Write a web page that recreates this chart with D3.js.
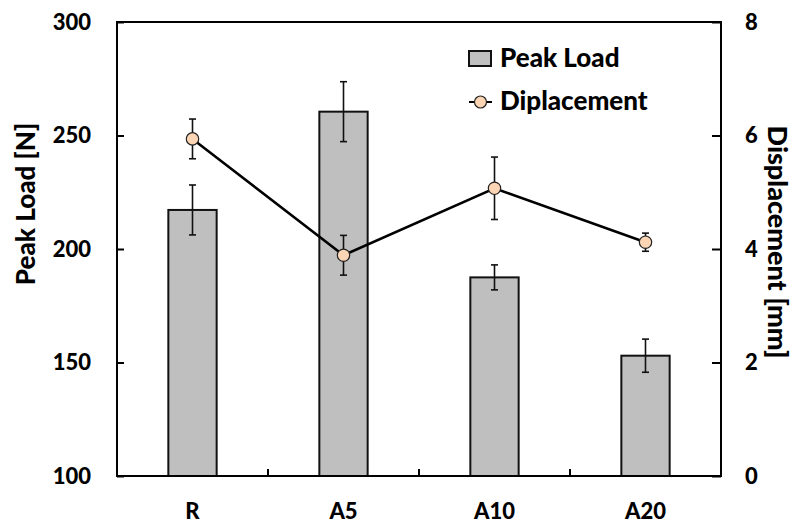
<!DOCTYPE html>
<html>
<head>
<meta charset="utf-8">
<script src="https://cdn.jsdelivr.net/npm/d3@7"></script>
<style>
  html, body { margin: 0; padding: 0; background: #fff; }
  svg { display: block; font-family: Lato, "Open Sans", sans-serif; }
</style>
</head>
<body>
<svg id="chart" width="795" height="519"></svg>
<script>
// Samples
const categories = ["R", "A5", "A10", "A20"];
// Peak load [N] with standard deviation
const peakLoad = [217.2, 260.5, 187.5, 153.0];
const peakLoadErr = [11.0, 13.2, 5.5, 7.3];
// Displacement [mm] with standard deviation
const displacement = [5.94, 3.89, 5.07, 4.12];
const displacementErr = [0.35, 0.35, 0.55, 0.16];
// Axis ticks
const leftTicks = [100, 150, 200, 250, 300];
const rightTicks = [0, 2, 4, 6, 8];

const svg = d3.select("#chart");
const margin = { left: 117, right: 74, top: 22, bottom: 43 };
const W = 795, H = 519;
const x0 = margin.left, x1 = W - margin.right;
const y0 = H - margin.bottom, y1 = margin.top;
const FW = 900;

const x = d3.scaleBand().domain(categories).range([x0, x1]).padding(0);
const yL = d3.scaleLinear().domain([100, 300]).range([y0, y1]);
const yR = d3.scaleLinear().domain([0, 8]).range([y0, y1]);

const barW = x.bandwidth() * 0.32;
const cx = d => x(d) + x.bandwidth() / 2;

// Bars
svg.append("g").selectAll("rect")
  .data(categories)
  .join("rect")
  .attr("x", d => cx(d) - barW / 2)
  .attr("y", (d, i) => yL(peakLoad[i]))
  .attr("width", barW)
  .attr("height", (d, i) => yL(100) - yL(peakLoad[i]))
  .attr("fill", "#bfbfbf")
  .attr("stroke", "#111")
  .attr("stroke-width", 2);

// Error bars for a series
function errorBars(g, scale, vals, errs, cap) {
  const e = g.selectAll("g").data(categories).join("g");
  e.append("line")
    .attr("x1", d => cx(d)).attr("x2", d => cx(d))
    .attr("y1", (d, i) => scale(vals[i] + errs[i]))
    .attr("y2", (d, i) => scale(vals[i] - errs[i]));
  e.append("line")
    .attr("x1", d => cx(d) - cap).attr("x2", d => cx(d) + cap)
    .attr("y1", (d, i) => scale(vals[i] + errs[i]))
    .attr("y2", (d, i) => scale(vals[i] + errs[i]));
  e.append("line")
    .attr("x1", d => cx(d) - cap).attr("x2", d => cx(d) + cap)
    .attr("y1", (d, i) => scale(vals[i] - errs[i]))
    .attr("y2", (d, i) => scale(vals[i] - errs[i]));
  g.selectAll("line").attr("stroke", "#111").attr("stroke-width", 1.6);
}
errorBars(svg.append("g"), yL, peakLoad, peakLoadErr, 3.5);

// Displacement line
const line = d3.line().x(d => cx(d.c)).y(d => yR(d.v));
svg.append("path")
  .datum(categories.map((c, i) => ({ c, v: displacement[i] })))
  .attr("d", line)
  .attr("fill", "none")
  .attr("stroke", "#000")
  .attr("stroke-width", 2.6);

errorBars(svg.append("g"), yR, displacement, displacementErr, 3.5);

svg.append("g").selectAll("circle")
  .data(categories)
  .join("circle")
  .attr("cx", d => cx(d))
  .attr("cy", (d, i) => yR(displacement[i]))
  .attr("r", 6.2)
  .attr("fill", "#fcd5b4")
  .attr("stroke", "#222")
  .attr("stroke-width", 1.2);

// Frame
svg.append("rect")
  .attr("x", x0).attr("y", y1)
  .attr("width", x1 - x0).attr("height", y0 - y1)
  .attr("fill", "none").attr("stroke", "#000").attr("stroke-width", 2);

// Left axis (ticks inside)
const axL = svg.append("g").attr("transform", `translate(${x0},0)`)
  .call(d3.axisLeft(yL).tickValues(leftTicks).tickSize(-7).tickPadding(26).tickFormat(d3.format("d")));
// Right axis (ticks inside)
const axR = svg.append("g").attr("transform", `translate(${x1},0)`)
  .call(d3.axisRight(yR).tickValues(rightTicks).tickSize(-9).tickPadding(24).tickFormat(d3.format("d")));
// Bottom axis: category labels, ticks between bands
const axB = svg.append("g").attr("transform", `translate(0,${y0})`)
  .call(d3.axisBottom(x).tickSize(0).tickPadding(27));
svg.append("g").selectAll("line")
  .data(categories.slice(1))
  .join("line")
  .attr("x1", d => x(d)).attr("x2", d => x(d))
  .attr("y1", y0).attr("y2", y0 - 7)
  .attr("stroke", "#000").attr("stroke-width", 2);

[axL, axR, axB].forEach(a => {
  a.select(".domain").remove();
  a.selectAll(".tick line").attr("stroke", "#000").attr("stroke-width", 2);
  a.selectAll("text").attr("font-family", "Lato, sans-serif")
    .attr("font-weight", FW).attr("font-size", 22).attr("fill", "#000");
});
axB.selectAll("text").attr("dy", "0.71em");

// Axis titles
svg.append("text")
  .attr("transform", `translate(35,204) rotate(-90)`)
  .attr("text-anchor", "middle")
  .attr("font-weight", FW).attr("font-size", 26)
  .text("Peak Load [N]");
svg.append("text")
  .attr("transform", `translate(768,242) rotate(90)`)
  .attr("text-anchor", "middle")
  .attr("font-weight", FW).attr("font-size", 27)
  .text("Displacement [mm]");

// Legend
const lg = svg.append("g");
lg.append("rect").attr("x", 469).attr("y", 51).attr("width", 22).attr("height", 15)
  .attr("fill", "#bfbfbf").attr("stroke", "#111").attr("stroke-width", 2);
lg.append("text").attr("x", 500).attr("y", 67)
  .attr("font-weight", FW).attr("font-size", 26).text("Peak Load");
lg.append("line").attr("x1", 469).attr("x2", 492).attr("y1", 102).attr("y2", 102)
  .attr("stroke", "#000").attr("stroke-width", 2);
lg.append("circle").attr("cx", 480.5).attr("cy", 102).attr("r", 6)
  .attr("fill", "#fcd5b4").attr("stroke", "#222").attr("stroke-width", 1.2);
lg.append("text").attr("x", 500).attr("y", 110)
  .attr("font-weight", FW).attr("font-size", 26).text("Diplacement");
</script>
</body>
</html>
